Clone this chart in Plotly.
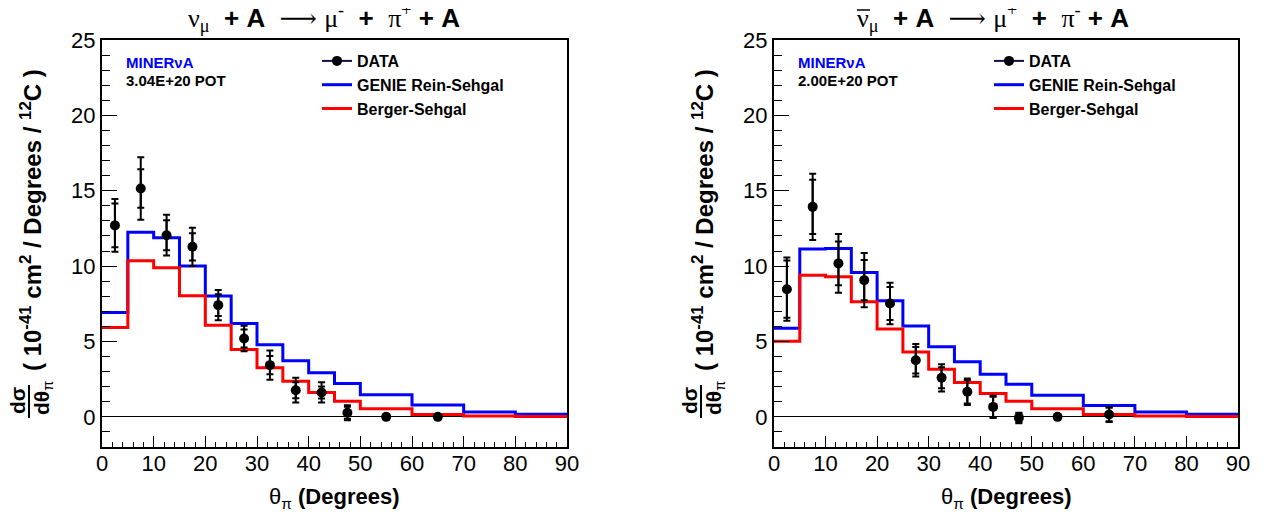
import plotly.graph_objects as go

# ---------------- data ----------------
bin_edges = [0, 5, 10, 15, 20, 25, 30, 35, 40, 45, 50, 60, 70, 80, 90]
data_x = [2.5, 7.5, 12.5, 17.5, 22.5, 27.5, 32.5, 37.5, 42.5, 47.5, 55, 65]

# neutrino (left)
nu_data = [12.7, 15.15, 12.05, 11.28, 7.41, 5.2, 3.43, 1.77, 1.62, 0.27, 0.0, 0.0]
nu_stat = [1.45, 1.28, 1.0, 0.9, 0.72, 0.6, 0.6, 0.53, 0.4, 0.4, 0.0, 0.0]
nu_tot = [1.75, 2.07, 1.35, 1.27, 1.0, 0.85, 0.97, 0.82, 0.67, 0.5, 0.0, 0.0]
nu_genie = [6.93, 12.24, 11.88, 10.0, 8.01, 6.2, 4.78, 3.72, 2.92, 2.21, 1.46, 0.78, 0.33, 0.18]
nu_berger = [5.93, 10.35, 9.89, 8.03, 6.08, 4.47, 3.25, 2.37, 1.62, 1.04, 0.53, 0.16, 0.05, 0.03]

# antineutrino (right)
nub_data = [8.47, 13.93, 10.18, 9.07, 7.52, 3.76, 2.59, 1.66, 0.66, -0.07, 0.0, 0.16]
nub_stat = [1.9, 1.8, 1.45, 1.33, 1.1, 0.88, 0.7, 0.78, 0.67, 0.3, 0.0, 0.45]
nub_tot = [2.1, 2.2, 1.95, 1.8, 1.38, 1.08, 0.9, 0.88, 0.74, 0.35, 0.0, 0.5]
nub_genie = [5.87, 11.13, 11.17, 9.58, 7.7, 6.02, 4.65, 3.65, 2.83, 2.17, 1.44, 0.75, 0.33, 0.18]
nub_berger = [5.02, 9.4, 9.29, 7.63, 5.82, 4.31, 3.16, 2.28, 1.55, 1.04, 0.53, 0.16, 0.05, 0.03]

x_ticks = [0, 10, 20, 30, 40, 50, 60, 70, 80, 90]
y_ticks = [0, 5, 10, 15, 20, 25]

pot_labels = ["3.04E+20 POT", "2.00E+20 POT"]

NB = "\u00a0"
SER = "<span style='font-family:Liberation Serif'>"
ARW = "<span style='font-family:DejaVu Serif'>⟶</span>"


def make_title(lep_sign, pi_sign):
    return (SER + "ν<sub>μ</sub></span><b>" + NB * 2 + "+" + NB + "A" + NB * 2 + "</b>"
            + ARW + NB + SER + "μ<sup>" + lep_sign + "</sup></span><b>" + NB * 2 + "+" + NB * 2 + "</b>"
            + SER + "π<sup>" + pi_sign + "</sup></span><b>" + NB + "+" + NB + "A</b>")


titles = [make_title("-", "+"), make_title("+", "-")]

# page body has an 8px margin: size figure so it fits inside the window
OFF = 8
W, H = 1273 - 2 * OFF, 520 - 2 * OFF
T = 40 - OFF
B = H - (447 - OFF)
PH = H - T - B
FONT = "Liberation Sans, Arial, sans-serif"


def px(x):
    return (x - OFF) / W


def py(y):
    return (447 - y) / PH


fig = go.Figure()

panels = [
    (nu_data, nu_stat, nu_tot, nu_genie, nu_berger, "x", "y", "legend"),
    (nub_data, nub_stat, nub_tot, nub_genie, nub_berger, "x2", "y2", "legend2"),
]

for (d, es, et, g, bs, xa, ya, lg) in panels:
    for vals, col, name, rank in [(g, "#0000ff", "GENIE Rein-Sehgal", 2), (bs, "#ff0000", "Berger-Sehgal", 3)]:
        fig.add_trace(go.Scatter(
            x=bin_edges, y=list(vals) + [vals[-1]], mode="lines",
            line=dict(color=col, width=3, shape="hv"),
            name=name, xaxis=xa, yaxis=ya, legend=lg, legendrank=rank,
        ))
    fig.add_trace(go.Scatter(
        x=data_x, y=d, mode="markers",
        marker=dict(color="black", size=10, opacity=0),
        error_y=dict(type="data", array=et, visible=True, color="black", thickness=2, width=3.5),
        showlegend=False, xaxis=xa, yaxis=ya, hoverinfo="skip",
    ))
    fig.add_trace(go.Scatter(
        x=data_x, y=d, mode="markers",
        marker=dict(color="black", size=10),
        error_y=dict(type="data", array=es, visible=True, color="black", thickness=2, width=3.5),
        name="DATA", showlegend=False, xaxis=xa, yaxis=ya,
    ))
    # legend entry for the data (line + marker symbol, as in the original key)
    fig.add_trace(go.Scatter(
        x=[None], y=[None], mode="lines+markers",
        line=dict(color="#10104a", width=2), marker=dict(color="black", size=10),
        name="DATA", xaxis=xa, yaxis=ya, legend=lg, legendrank=1,
    ))

axis_common = dict(
    showgrid=False, showline=True, linecolor="black", linewidth=2, mirror=True,
    ticks="inside", tickcolor="black", tickwidth=1, automargin=False,
    tickfont=dict(family=FONT, size=22, color="black"),
)

xdoms = [[px(102), px(567)], [px(774), px(1238)]]
for i, (xn, yn) in enumerate([("xaxis", "yaxis"), ("xaxis2", "yaxis2")]):
    fig.update_layout({
        xn: dict(axis_common, domain=xdoms[i], range=[0, 90], tickvals=x_ticks, ticklen=11,
                 ticklabelstandoff=-4,
                 minor=dict(dtick=2, ticklen=5, ticks="inside", tickcolor="black", showgrid=False),
                 zeroline=False, anchor="y" if i == 0 else "y2"),
        yn: dict(axis_common, domain=[0, 1], range=[-2, 25], tickvals=y_ticks, ticklen=15,
                 minor=dict(dtick=1, ticklen=8, ticks="inside", tickcolor="black", showgrid=False),
                 zeroline=True, zerolinecolor="black", zerolinewidth=1,
                 anchor="x" if i == 0 else "x2"),
    })

legend_common = dict(
    font=dict(family=FONT, size=16, color="black", weight="bold"),
    bgcolor="rgba(0,0,0,0)", borderwidth=0, itemwidth=30,
    xanchor="left", yanchor="top", tracegroupgap=0,
)
fig.update_layout(
    legend=dict(legend_common, x=px(317), y=py(44)),
    legend2=dict(legend_common, x=px(317 + 672), y=py(44)),
)

ann = []
shapes = []
for i, off in enumerate([0, 672]):
    # title
    ann.append(dict(x=px([324, 993][i]), y=py(18), xref="paper", yref="paper", text=titles[i],
                    showarrow=False, font=dict(family=FONT, size=26, color="black"),
                    xanchor="center", yanchor="middle"))
    # MINERvA label
    ann.append(dict(x=px(124 + off), y=py(62), xref="paper", yref="paper",
                    text="<b>MINERνA</b>", showarrow=False,
                    font=dict(family=FONT, size=15, color="#0000ff"), xanchor="left", yanchor="middle"))
    ann.append(dict(x=px(124 + off), y=py(80), xref="paper", yref="paper",
                    text="<b>" + pot_labels[i] + "</b>", showarrow=False,
                    font=dict(family=FONT, size=15, color="black"), xanchor="left", yanchor="middle"))
    # x title
    ann.append(dict(x=px(334 + off), y=py(498), xref="paper", yref="paper",
                    text="θ<sub>π</sub><b> (Degrees)</b>", showarrow=False,
                    font=dict(family=FONT, size=22, color="black"), xanchor="center", yanchor="middle"))
    # y title main
    ann.append(dict(x=px(31 + off), y=py(220), xref="paper", yref="paper",
                    text="<b>( 10<sup>-41</sup> cm<sup>2</sup> / Degrees / <sup>12</sup>C )</b>",
                    showarrow=False, textangle=-90,
                    font=dict(family=FONT, size=24, color="black"), xanchor="center", yanchor="middle"))
    # fraction d sigma / d theta_pi
    ann.append(dict(x=px(17 + off), y=py(401), xref="paper", yref="paper",
                    text="<b>dσ</b>", showarrow=False, textangle=-90,
                    font=dict(family=FONT, size=21, color="black"), xanchor="center", yanchor="middle"))
    ann.append(dict(x=px(43 + off), y=py(398), xref="paper", yref="paper",
                    text="<b>dθ</b><sub>π</sub>", showarrow=False, textangle=-90,
                    font=dict(family=FONT, size=21, color="black"), xanchor="center", yanchor="middle"))
    shapes.append(dict(type="line", xref="paper", yref="paper",
                       x0=px(29 + off), x1=px(29 + off), y0=py(385), y1=py(418),
                       line=dict(color="black", width=2)))

# bar over the anti-neutrino symbol in the right-hand title
shapes.append(dict(type="line", xref="paper", yref="paper",
                   x0=px(857), x1=px(870), y0=py(10), y1=py(10),
                   line=dict(color="black", width=1.5)))

fig.update_layout(
    width=W, height=H, autosize=False,
    margin=dict(l=0, r=0, t=T, b=B, pad=0, autoexpand=False),
    paper_bgcolor="white", plot_bgcolor="white",
    annotations=ann, shapes=shapes,
    font=dict(family=FONT, color="black"),
)

fig.write_html("out.html")
